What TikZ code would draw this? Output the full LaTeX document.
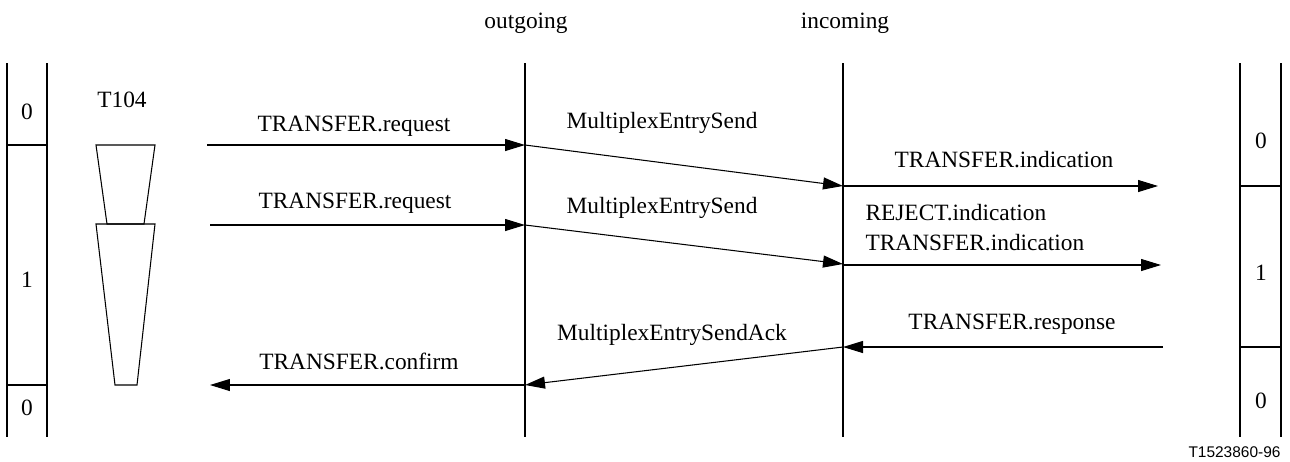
\documentclass[tikz,border=0pt]{standalone}
\usepackage{fontspec}
\setmainfont{Liberation Serif}
\setsansfont{Liberation Sans}
\usetikzlibrary{arrows.meta}
\tikzset{
  msg/.style={arrows={-Triangle[length=0.4cm,width=0.24cm]}},
  lbl/.style={font=\fontsize{13.3}{16}\selectfont,inner sep=0pt,anchor=base},
  bar/.style={line width=0.8pt}
}
\begin{document}
\begin{tikzpicture}[x=0.02cm,y=-0.02cm,line width=0.6pt]
\useasboundingbox (0,0) rectangle (1290,461);
% state bars
\draw[bar] (7,63) -- (7,437) (47,63) -- (47,437);
\foreach \y in {145,385}
   \draw[bar] (7,\y) -- (47,\y);
\draw[bar] (1240,63) -- (1240,437) (1281,63) -- (1281,437);
\foreach \y in {186,347}
   \draw[bar] (1240,\y) -- (1281,\y);
\foreach \y/\t [count=\i] in {119/0,287/1,415/0}
   \node[lbl] (lst\i) at (27,\y) {\t};
\foreach \y/\t [count=\i] in {148/0,280/1,408/0}
   \node[lbl] (rst\i) at (1261,\y) {\t};
% timer
\node[lbl] (tmr) at (122,107) {T104};
\draw (96,145) -- (155,145) -- (144,224) -- (107,224) -- cycle;
\draw (96,224) -- (155,224) -- (137,385) -- (115,385) -- cycle;
% lifelines
\node[lbl] (outlbl) at (526,28) {outgoing};
\node[lbl] (inlbl) at (845,28) {incoming};
\coordinate (outtop) at (525,63); \coordinate (outbot) at (525,437);
\coordinate (intop) at (843,63); \coordinate (inbot) at (843,437);
\draw (outtop) -- (outbot);
\draw (intop) -- (inbot);
% message points
\coordinate (s1) at (207,145); \coordinate (o1) at (525,145);
\coordinate (i1) at (843,186); \coordinate (e1) at (1158,186);
\coordinate (s2) at (210,225); \coordinate (o2) at (525,225);
\coordinate (i2) at (843,264); \coordinate (e2) at (1161,265);
\coordinate (e3) at (1163,347); \coordinate (i3) at (843,347);
\coordinate (o3) at (525,385); \coordinate (s3) at (210,385);
% messages
\draw[msg] (s1) -- (o1);
\draw[msg] (o1) -- (i1);
\draw[msg] (i1) -- (e1);
\draw[msg] (s2) -- (o2);
\draw[msg] (o2) -- (i2);
\draw[msg] (i2 |- e2) -- (e2);
\draw[msg] (e3) -- (i3);
\draw[msg] (i3) -- (o3);
\draw[msg] (o3) -- (s3);
\node[lbl] (req1) at (354,131) {TRANSFER.request};
\node[lbl] (mes1) at (662,128) {MultiplexEntrySend};
\node[lbl] (ind1) at (1004,167) {TRANSFER.indication};
\node[lbl] (req2) at (355,208) {TRANSFER.request};
\node[lbl] (mes2) at (662,213) {MultiplexEntrySend};
\node[lbl,anchor=base west] (rej) at (865,220) {REJECT.indication};
\node[lbl,anchor=base west] (ind2) at (865,250) {TRANSFER.indication};
\node[lbl] (rsp) at (1012,329) {TRANSFER.response};
\node[lbl] (ack) at (672,340) {MultiplexEntrySendAck};
\node[lbl] (cnf) at (359,369) {TRANSFER.confirm};
\node[font=\sffamily\fontsize{8.8}{10}\selectfont,inner sep=0pt,anchor=base east] (fig) at (1281,457) {T1523860-96};
\end{tikzpicture}
\end{document}
